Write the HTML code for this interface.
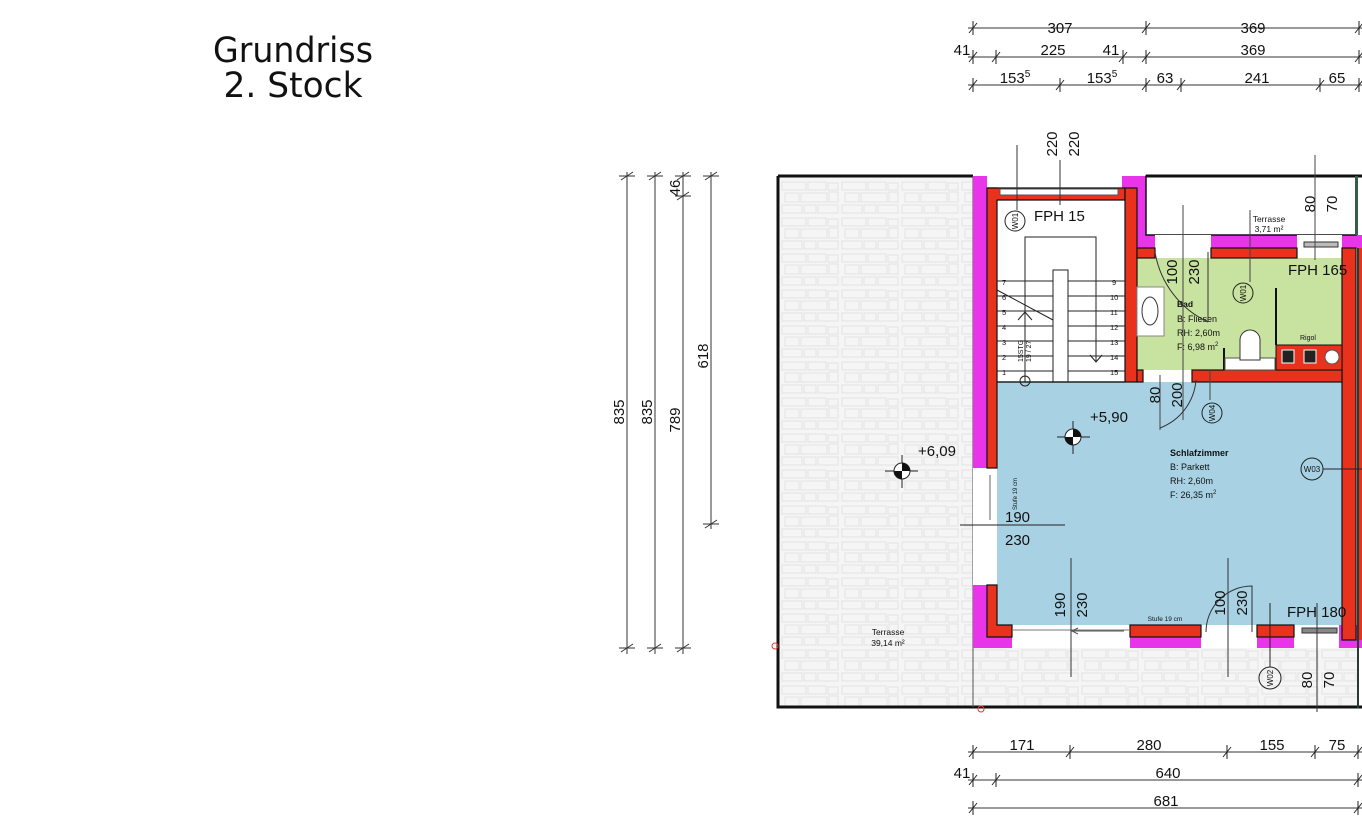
<!DOCTYPE html>
<html><head><meta charset="utf-8"><style>
html,body{margin:0;padding:0;background:#fff;}
svg{display:block;}
text{font-family:"Liberation Sans",sans-serif;fill:#111;}
</style></head><body>
<svg width="1362" height="820" viewBox="0 0 1362 820" xmlns="http://www.w3.org/2000/svg">
<defs>
<pattern id="stone" width="60" height="36" patternUnits="userSpaceOnUse">
<rect width="60" height="36" fill="#f5f5f5"/>
<g fill="none" stroke="#e2e2e2" stroke-width="1">
<rect x="2" y="2" width="24" height="8"/><rect x="28" y="2" width="18" height="8"/><rect x="48" y="3" width="10" height="7"/>
<rect x="5" y="13" width="14" height="9"/><rect x="21" y="13" width="26" height="9"/><rect x="49" y="12" width="9" height="10"/>
<rect x="2" y="25" width="20" height="8"/><rect x="24" y="25" width="12" height="8"/><rect x="38" y="25" width="20" height="8"/>
</g></pattern>
</defs>

<!-- title -->
<text x="293" y="62" font-size="35" text-anchor="middle" textLength="160" lengthAdjust="spacingAndGlyphs" style="font-family:'DejaVu Sans',sans-serif">Grundriss</text>
<text x="293" y="97" font-size="35" text-anchor="middle" textLength="139" lengthAdjust="spacingAndGlyphs" style="font-family:'DejaVu Sans',sans-serif">2. Stock</text>

<!-- dimension lines -->
<g stroke="#333" stroke-width="1" fill="none">
<line x1="968" y1="28" x2="1362" y2="28"/>
<line x1="968" y1="57" x2="1362" y2="57"/>
<line x1="968" y1="85" x2="1362" y2="85"/>
<line x1="968" y1="752" x2="1362" y2="752"/>
<line x1="968" y1="780" x2="1362" y2="780"/>
<line x1="968" y1="808" x2="1362" y2="808"/>
</g>
<g stroke="#222" stroke-width="1">
<path d="M973 21v14M969 33l8-10 M1146 21v14M1142 33l8-10 M1359 21v14M1355 33l8-10
M973 50v14M969 62l8-10 M996 50v14M992 62l8-10 M1123 50v14M1119 62l8-10 M1146 50v14M1142 62l8-10 M1359 50v14M1355 62l8-10
M973 78v14M969 90l8-10 M1060 78v14M1056 90l8-10 M1146 78v14M1142 90l8-10 M1181 78v14M1177 90l8-10 M1320 78v14M1316 90l8-10 M1359 78v14M1355 90l8-10
M973 745v14M969 757l8-10 M1070 745v14M1066 757l8-10 M1227 745v14M1223 757l8-10 M1315 745v14M1311 757l8-10 M1358 745v14M1354 757l8-10
M973 773v14M969 785l8-10 M996 773v14M992 785l8-10 M1358 773v14M1354 785l8-10
M973 801v14M969 813l8-10 M1358 801v14M1354 813l8-10"/>
</g>
<g font-size="15" text-anchor="middle">
<text x="1060" y="33">307</text><text x="1253" y="33">369</text>
<text x="962" y="55">41</text><text x="1053" y="55">225</text><text x="1111" y="55">41</text><text x="1253" y="55">369</text>
<text x="1015" y="83">153<tspan font-size="10" dy="-6">5</tspan></text><text x="1102" y="83">153<tspan font-size="10" dy="-6">5</tspan></text>
<text x="1165" y="83">63</text><text x="1257" y="83">241</text><text x="1337" y="83">65</text>
<text x="1022" y="750">171</text><text x="1149" y="750">280</text><text x="1272" y="750">155</text><text x="1337" y="750">75</text>
<text x="962" y="778">41</text><text x="1168" y="778">640</text>
<text x="1166" y="806">681</text>
</g>
<rect x="960" y="0" width="402" height="20" fill="#fff"/>

<!-- left vertical dims -->
<g stroke="#333" stroke-width="1">
<line x1="627" y1="172" x2="627" y2="654"/><line x1="655" y1="172" x2="655" y2="654"/>
<line x1="683" y1="172" x2="683" y2="654"/><line x1="711" y1="172" x2="711" y2="529"/>
<path d="M619 176h16M621 180l12-8 M647 176h16M649 180l12-8 M675 176h16M677 180l12-8 M703 176h16M705 180l12-8
M675 196h16M677 200l12-8 M703 524h16M705 528l12-8
M619 648h16M621 652l12-8 M647 648h16M649 652l12-8 M675 648h16M677 652l12-8"/>
</g>
<g font-size="15" text-anchor="middle">
<text transform="translate(624,412) rotate(-90)">835</text>
<text transform="translate(652,412) rotate(-90)">835</text>
<text transform="translate(680,420) rotate(-90)">789</text>
<text transform="translate(680,188) rotate(-90)">46</text>
<text transform="translate(708,356) rotate(-90)">618</text>
</g>

<!-- big terrace -->
<rect x="777" y="175" width="196" height="532" fill="url(#stone)"/>
<rect x="973" y="648" width="384" height="59" fill="url(#stone)"/>
<path d="M778 176V707H1362" fill="none" stroke="#111" stroke-width="3"/>
<path d="M778 176H973" fill="none" stroke="#111" stroke-width="3"/>
<line x1="973" y1="176" x2="973" y2="707" stroke="#555" stroke-width="1"/>
<circle cx="775" cy="646" r="3" fill="none" stroke="#e33"/>
<circle cx="981" cy="709" r="3" fill="none" stroke="#e33"/>

<!-- magenta outer walls -->
<g fill="#e935e9">
<rect x="973" y="176" width="14" height="292"/>
<rect x="973" y="585" width="39" height="63"/>
<rect x="1122" y="176" width="24" height="74"/>
<rect x="1146" y="235" width="216" height="13"/>
<rect x="1130" y="637" width="71" height="11"/>
<rect x="1257" y="637" width="37" height="11"/>
<rect x="1339" y="625" width="23" height="23"/>
</g>
<rect x="1146" y="176" width="210" height="59" fill="#fff" stroke="#111" stroke-width="1.5"/>
<line x1="1146" y1="176" x2="1362" y2="176" stroke="#111" stroke-width="3"/>
<rect x="1355" y="176" width="3" height="59" fill="#3a5a4a"/>
<rect x="1155" y="235" width="56" height="13" fill="#fff"/>
<rect x="1297" y="235" width="45" height="13" fill="#fff"/>

<!-- rooms -->
<rect x="997" y="200" width="128" height="182" fill="#fff"/>
<rect x="1137" y="258" width="205" height="112" fill="#c8e2a0"/>
<rect x="997" y="382" width="345" height="243" fill="#a8d2e4"/>
<rect x="973" y="468" width="24" height="117" fill="#fff"/>
<rect x="1012" y="625" width="118" height="23" fill="#fff"/>
<rect x="1201" y="625" width="56" height="23" fill="#fff"/>
<rect x="1294" y="625" width="45" height="23" fill="#fff"/>

<!-- red walls -->
<g fill="#e8321e" stroke="#111" stroke-width="1.2">
<path d="M987 188H997V468H987Z"/>
<path d="M987 188H1125V200H997"/>
<rect x="1125" y="188" width="12" height="194"/>
<rect x="1137" y="248" width="18" height="10"/>
<rect x="1211" y="248" width="86" height="10"/>
<rect x="1342" y="248" width="14" height="392"/>
<rect x="1192" y="370" width="150" height="12"/>
<rect x="1137" y="370" width="6" height="12"/>
<path d="M987 585H997V625H1012V637H987Z"/>
<rect x="1130" y="625" width="71" height="12"/>
<rect x="1257" y="625" width="37" height="12"/>
</g>
<rect x="1357" y="248" width="2" height="460" fill="#2a3a30"/>
<rect x="1359" y="248" width="3" height="392" fill="#e8321e"/>
<rect x="1000" y="189" width="118" height="6" fill="#fff" stroke="#555" stroke-width="1"/>
<rect x="1304" y="242" width="34" height="5" fill="#bbb" stroke="#333"/>
<rect x="1302" y="628" width="35" height="5" fill="#888" stroke="#333"/>
<line x1="1012" y1="630" x2="1130" y2="630" stroke="#777"/>
<path d="M1078 634l-6-3 6-3M1072 631h52" fill="none" stroke="#555"/>

<!-- stair -->
<g stroke="#222" stroke-width="1" fill="none">
<path d="M997 281H1125M997 296H1125M997 311H1125M997 326H1125M997 341H1125M997 356H1125M997 371H1125"/>
<rect x="1053" y="270" width="15" height="112" fill="#fff"/>
<path d="M1025 382V237H1096V362"/>
<path d="M1090 355l6 7 6-7"/>
<path d="M997 290l56 30"/>
<path d="M1018 320l7-8 7 8"/>
<circle cx="1025" cy="381" r="5"/>
<line x1="997" y1="382" x2="1125" y2="382" stroke-width="1.5"/>
</g>
<g font-size="7.5">
<text x="1002" y="285">7</text><text x="1002" y="300">6</text><text x="1002" y="315">5</text><text x="1002" y="330">4</text><text x="1002" y="345">3</text><text x="1002" y="360">2</text><text x="1002" y="375">1</text>
<text x="1112" y="285">9</text><text x="1110" y="300">10</text><text x="1110" y="315">11</text><text x="1110" y="330">12</text><text x="1110" y="345">13</text><text x="1110" y="360">14</text><text x="1110" y="375">15</text>
<text transform="translate(1023,362) rotate(-90)" font-size="7">15STG</text>
<text transform="translate(1031,362) rotate(-90)" font-size="7">19 / 27</text>
</g>
<text x="1034" y="221" font-size="15">FPH 15</text>
<line x1="1017" y1="145" x2="1017" y2="210" stroke="#333"/>
<line x1="1060" y1="160" x2="1060" y2="205" stroke="#333"/>
<g font-size="15" text-anchor="middle">
<text transform="translate(1057,144) rotate(-90)">220</text>
<text transform="translate(1079,144) rotate(-90)">220</text>
</g>

<!-- bad fixtures -->
<rect x="1137" y="287" width="27" height="49" fill="#fff" stroke="#888"/>
<ellipse cx="1150" cy="311" rx="8" ry="14" fill="none" stroke="#333"/>
<line x1="1276" y1="288" x2="1276" y2="345" stroke="#111" stroke-width="2"/>
<line x1="1224" y1="348" x2="1224" y2="370" stroke="#111" stroke-width="2"/>
<path d="M1225 358H1275V370H1225Z" fill="#fff" stroke="#555"/>
<path d="M1240 360v-20a10 10 0 0 1 20 0v20z" fill="#fff" stroke="#333"/>
<rect x="1276" y="345" width="66" height="25" fill="#e8321e" stroke="#111"/>
<rect x="1282" y="350" width="12" height="13" fill="#222" stroke="#fff"/>
<rect x="1304" y="350" width="12" height="13" fill="#222" stroke="#fff"/>
<circle cx="1332" cy="357" r="7" fill="#fff" stroke="#555"/>
<text x="1300" y="340" font-size="7">Rigol</text>
<text x="1288" y="275" font-size="15">FPH 165</text>
<g font-size="9">
<text x="1177" y="307" font-weight="bold" font-size="8.5">Bad</text>
<text x="1177" y="322">B: Fliesen</text>
<text x="1177" y="336">RH: 2,60m</text>
<text x="1177" y="350">F: 6,98 m<tspan font-size="6" dy="-4">2</tspan></text>
</g>
<path d="M1155 252a94 94 0 0 0 53 70" fill="none" stroke="#333"/>
<line x1="1208" y1="252" x2="1208" y2="322" stroke="#333"/>
<line x1="1183" y1="205" x2="1183" y2="420" stroke="#444"/>
<line x1="1160" y1="375" x2="1160" y2="430" stroke="#444"/>
<path d="M1160 428a56 56 0 0 0 36 -48" fill="none" stroke="#333"/>
<line x1="1210" y1="370" x2="1210" y2="400" stroke="#444"/>
<line x1="1250" y1="210" x2="1250" y2="282" stroke="#444"/>
<g font-size="15" text-anchor="middle">
<text transform="translate(1177,272) rotate(-90)">100</text>
<text transform="translate(1199,272) rotate(-90)">230</text>
<text transform="translate(1160,395) rotate(-90)">80</text>
<text transform="translate(1182,395) rotate(-90)">200</text>
<text transform="translate(1315,204) rotate(-90)">80</text>
<text transform="translate(1337,204) rotate(-90)">70</text>
</g>
<line x1="1315" y1="155" x2="1315" y2="260" stroke="#444"/>
<text x="1269" y="222" font-size="8.5" text-anchor="middle">Terrasse</text>
<text x="1269" y="232" font-size="8.5" text-anchor="middle">3,71 m²</text>

<!-- markers -->
<g fill="none" stroke="#222">
<circle cx="1015" cy="221" r="10"/><circle cx="1243" cy="293" r="10"/><circle cx="1212" cy="413" r="10"/>
<circle cx="1312" cy="469" r="11"/><circle cx="1270" cy="678" r="11"/>
<line x1="1323" y1="469" x2="1362" y2="469"/>
<line x1="1270" y1="603" x2="1270" y2="667"/>
</g>
<g font-size="8" text-anchor="middle">
<text transform="translate(1018,221) rotate(-90)">W01</text>
<text transform="translate(1246,293) rotate(-90)">W01</text>
<text transform="translate(1215,413) rotate(-90)">W04</text>
<text x="1312" y="472">W03</text>
<text transform="translate(1273,678) rotate(-90)">W02</text>
</g>

<g font-size="9">
<text x="1170" y="456" font-weight="bold">Schlafzimmer</text>
<text x="1170" y="470">B: Parkett</text>
<text x="1170" y="484">RH: 2,60m</text>
<text x="1170" y="498">F: 26,35 m<tspan font-size="6" dy="-4">2</tspan></text>
</g>
<g>
<line x1="1057" y1="437" x2="1090" y2="437" stroke="#222"/><line x1="1073" y1="421" x2="1073" y2="454" stroke="#222"/>
<circle cx="1073" cy="437" r="8" fill="#fff" stroke="#222"/>
<path d="M1073 429a8 8 0 0 1 8 8h-8zM1073 445a8 8 0 0 1 -8 -8h8z" fill="#111"/>
<line x1="885" y1="471" x2="918" y2="471" stroke="#222"/><line x1="902" y1="455" x2="902" y2="488" stroke="#222"/>
<circle cx="902" cy="471" r="8" fill="#fff" stroke="#222"/>
<path d="M902 463a8 8 0 0 1 8 8h-8zM902 479a8 8 0 0 1 -8 -8h8z" fill="#111"/>
</g>
<text x="1090" y="422" font-size="15">+5,90</text>
<text x="918" y="456" font-size="15">+6,09</text>
<text x="888" y="635" font-size="8.5" text-anchor="middle">Terrasse</text>
<text x="888" y="646" font-size="8.5" text-anchor="middle">39,14 m²</text>

<line x1="960" y1="525" x2="1065" y2="525" stroke="#222"/>
<line x1="990" y1="475" x2="990" y2="520" stroke="#666"/>
<text x="1005" y="522" font-size="15">190</text>
<text x="1005" y="545" font-size="15">230</text>
<text transform="translate(1017,510) rotate(-90)" font-size="6">Stufe 19 cm</text>

<line x1="1071" y1="558" x2="1071" y2="677" stroke="#333"/>
<line x1="1228" y1="558" x2="1228" y2="677" stroke="#333"/>
<line x1="1317" y1="603" x2="1317" y2="712" stroke="#333"/>
<path d="M1206 632a46 46 0 0 1 46 -46V632" fill="none" stroke="#333"/>
<g font-size="15" text-anchor="middle">
<text transform="translate(1065,605) rotate(-90)">190</text>
<text transform="translate(1087,605) rotate(-90)">230</text>
<text transform="translate(1225,603) rotate(-90)">100</text>
<text transform="translate(1247,603) rotate(-90)">230</text>
<text transform="translate(1312,680) rotate(-90)">80</text>
<text transform="translate(1334,680) rotate(-90)">70</text>
</g>
<text x="1287" y="617" font-size="15">FPH 180</text>
<text x="1165" y="621" font-size="6.5" text-anchor="middle">Stufe 19 cm</text>
</svg>
</body></html>
